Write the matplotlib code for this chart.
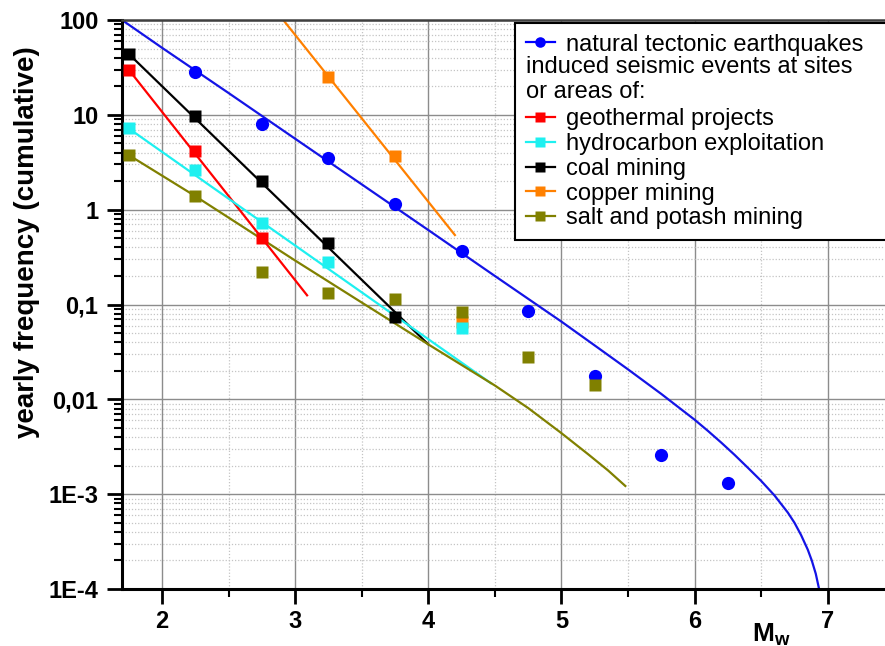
import numpy as np
import matplotlib
matplotlib.use("Agg")
import matplotlib.pyplot as plt
from matplotlib.lines import Line2D
from matplotlib.text import Text
from matplotlib.legend_handler import HandlerBase
from matplotlib.ticker import MultipleLocator, LogLocator, NullFormatter

plt.rcParams['font.family'] = 'Liberation Sans'
plt.rcParams['mathtext.fontset'] = 'custom'
plt.rcParams['mathtext.rm'] = 'Liberation Sans'
plt.rcParams['mathtext.bf'] = 'Liberation Sans:bold'

# --- data ---
natural_m = [2.25, 2.75, 3.25, 3.75, 4.25, 4.75, 5.25, 5.75, 6.25]
natural_n = [28, 8.0, 3.5, 1.15, 0.37, 0.085, 0.0176, 0.0026, 0.0013]
natural_fit_m = [1.7, 2.0, 2.5, 3.0, 3.5, 4.0, 4.5, 5.0, 5.25, 5.5, 5.75, 6.0,
                 6.1, 6.2, 6.3, 6.4, 6.5, 6.6, 6.7, 6.75, 6.8, 6.85, 6.88,
                 6.91, 6.935, 6.95]
natural_fit_n = [100, 51, 17, 5.6, 1.85, 0.61, 0.2, 0.066, 0.037, 0.0207, 0.0114, 0.0061,
                 0.00465, 0.0035, 0.0026, 0.0019, 0.00138, 0.00097, 0.00064, 0.0005,
                 0.00037, 0.00026, 0.0002, 0.000145, 0.0001, 0.00007]

geo_m = [1.75, 2.25, 2.75]
geo_n = [30, 4.2, 0.5]
geo_fit_m = [1.75, 3.09]
geo_fit_n = [30, 0.125]

hydro_m = [1.75, 2.25, 2.75, 3.25, 4.25]
hydro_n = [7.2, 2.6, 0.73, 0.28, 0.056]
hydro_fit_m = [1.75, 4.47]
hydro_fit_n = [7.2, 0.0148]

coal_m = [1.75, 2.25, 2.75, 3.25, 3.75]
coal_n = [44, 9.8, 2.0, 0.45, 0.073]
coal_fit_m = [1.75, 4.0]
coal_fit_n = [44, 0.038]

copper_m = [3.25, 3.75, 4.25]
copper_n = [25, 3.7, 0.066]
copper_fit_m = [2.85, 4.2]
copper_fit_n = [128, 0.54]

salt_m = [1.75, 2.25, 2.75, 3.25, 3.75, 4.25, 4.75, 5.25]
salt_n = [3.77, 1.39, 0.222, 0.133, 0.114, 0.084, 0.0281, 0.0142]
salt_fit_m = [1.75, 2.25, 2.75, 3.0, 3.5, 4.0, 4.5, 4.75, 5.0, 5.2, 5.35, 5.48]
salt_fit_n = [3.77, 1.39, 0.49, 0.291, 0.105, 0.038, 0.014, 0.0081, 0.0044, 0.00264, 0.00178, 0.00122]

ytick_vals = [1e-4, 1e-3, 1e-2, 1e-1, 1, 10, 100]
ytick_labels = ['1E-4', '1E-3', '0,01', '0,1', '1', '10', '100']
xtick_vals = [2, 3, 4, 5, 6, 7]

c_nat = '#0000ff'
c_geo = '#ff0000'
c_hyd = '#1ef0f0'
c_coal = '#000000'
c_cop = '#ff8000'
c_salt = '#808000'


class Note:
    def __init__(self, text):
        self.text = text


class HandlerNote(HandlerBase):
    # legend row made only of text, starting where the key lines start
    def create_artists(self, legend, orig_handle, xdescent, ydescent,
                       width, height, fontsize, trans):
        t = Text(-xdescent, (height - ydescent) / 2, orig_handle.text,
                 fontsize=fontsize, ha='left', va='center', transform=trans)
        return [t]


fig = plt.figure(figsize=(8.85, 6.46), dpi=100)
ax = fig.add_axes([122 / 885, 57 / 646, 763 / 885, 569 / 646])

ms_sq = 8.6
ms_c = 9.5
lw = 1.6

# fit lines
ax.plot(natural_fit_m, natural_fit_n, color='#1414e6', lw=lw, zorder=2)
ax.plot(copper_fit_m, copper_fit_n, color=c_cop, lw=lw, zorder=2)
ax.plot(geo_fit_m, geo_fit_n, color=c_geo, lw=lw, zorder=2)
ax.plot(coal_fit_m, coal_fit_n, color=c_coal, lw=lw, zorder=2)
ax.plot(hydro_fit_m, hydro_fit_n, color=c_hyd, lw=lw, zorder=2)
ax.plot(salt_fit_m, salt_fit_n, color=c_salt, lw=lw, zorder=2)

# data points
ax.plot(natural_m, natural_n, 'o', color=c_nat, ms=ms_c, mec='none', zorder=3)
ax.plot(copper_m, copper_n, 's', color=c_cop, ms=ms_sq, mec='none', zorder=3)
ax.plot(hydro_m, hydro_n, 's', color=c_hyd, ms=ms_sq, mec='none', zorder=3)
ax.plot(geo_m, geo_n, 's', color=c_geo, ms=ms_sq, mec='none', zorder=3)
ax.plot(coal_m, coal_n, 's', color=c_coal, ms=ms_sq, mec='none', zorder=3)
ax.plot(salt_m, salt_n, 's', color=c_salt, ms=ms_sq, mec='none', zorder=3)

ax.set_yscale('log')
ax.set_xlim(1.7, 7.43)
ax.set_ylim(1e-4, 100)

ax.set_yticks(ytick_vals, ytick_labels, fontsize=17, fontweight='bold')
ax.yaxis.set_minor_locator(LogLocator(base=10, subs=np.arange(2, 10)))
ax.yaxis.set_minor_formatter(NullFormatter())
ax.set_xticks(xtick_vals, [str(v) for v in xtick_vals], fontsize=17, fontweight='bold')
ax.xaxis.set_minor_locator(MultipleLocator(0.5))

ax.tick_params(axis='both', which='major', direction='out', width=2, length=11)
ax.tick_params(axis='both', which='minor', direction='out', width=1.5, length=6)
ax.tick_params(axis='x', which='major', pad=4)
ax.tick_params(axis='y', which='major', pad=6)
ax.tick_params(top=False, right=False, which='both')

ax.grid(which='major', color='#8c8c8c', lw=1.0, ls='-')
ax.grid(which='minor', color='#c4c4c4', lw=0.9, ls=(0, (1, 1.5)))
ax.set_axisbelow(True)

ax.spines['right'].set_visible(False)
ax.spines['top'].set_color('#404040')
ax.spines['top'].set_linewidth(1.8)
ax.spines['left'].set_linewidth(2.2)
ax.spines['bottom'].set_linewidth(2.2)

fig.text(0.031, 0.625, 'yearly frequency (cumulative)', rotation=90,
         ha='center', va='center', fontsize=20, fontweight='bold')
fig.text(752 / 885, 5 / 646, r'$\mathbf{M}_{\mathbf{w}}$', fontsize=19,
         ha='left', va='baseline')

handles = [
    Line2D([], [], color=c_nat, marker='o', ms=ms_c, mec='none', lw=lw),
    Note('induced seismic events at sites'),
    Note('or areas of:'),
    Line2D([], [], color=c_geo, marker='s', ms=ms_sq, mec='none', lw=lw),
    Line2D([], [], color=c_hyd, marker='s', ms=ms_sq, mec='none', lw=lw),
    Line2D([], [], color=c_coal, marker='s', ms=ms_sq, mec='none', lw=lw),
    Line2D([], [], color=c_cop, marker='s', ms=ms_sq, mec='none', lw=lw),
    Line2D([], [], color=c_salt, marker='s', ms=ms_sq, mec='none', lw=lw),
]
labels = ['natural tectonic earthquakes', ' ', ' ', 'geothermal projects',
          'hydrocarbon exploitation', 'coal mining', 'copper mining',
          'salt and potash mining']

leg = ax.legend(handles, labels, handler_map={Note: HandlerNote()},
                loc='upper left', bbox_to_anchor=(0.515, 0.9947, 0.6, 0),
                mode='expand', fontsize=17, frameon=True, fancybox=False,
                edgecolor='black', framealpha=1, borderpad=0.45,
                labelspacing=0.12, handlelength=1.25, handletextpad=0.47,
                borderaxespad=0, markerscale=0.8)
leg.get_frame().set_linewidth(1.5)

fig.savefig('out.png', dpi=100)
